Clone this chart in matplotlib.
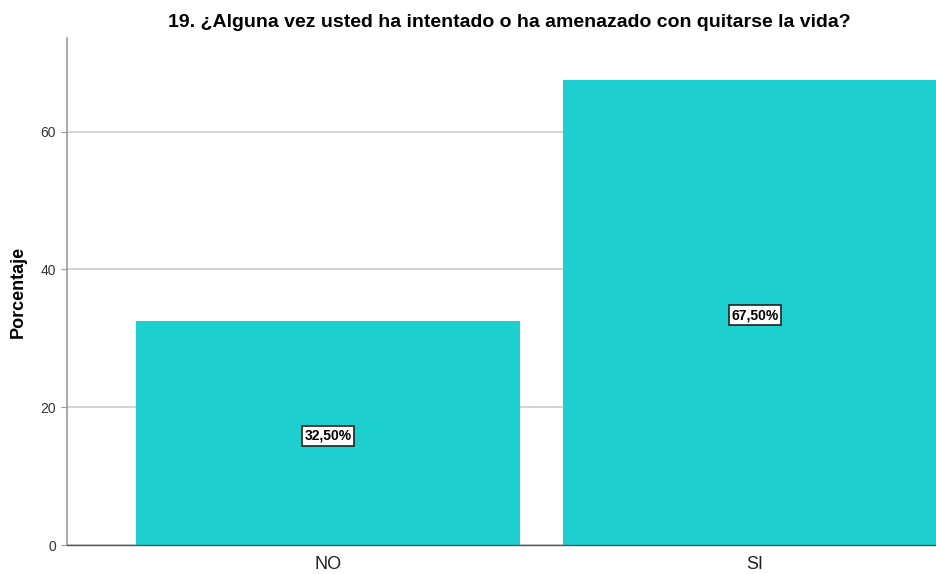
import matplotlib
matplotlib.use("Agg")
import matplotlib.pyplot as plt

categories = ["NO", "SI"]
values = [32.5, 67.5]
labels = ["32,50%", "67,50%"]
title = "19. ¿Alguna vez usted ha intentado o ha amenazado con quitarse la vida?"
ylabel = "Porcentaje"
yticks = [0, 20, 40, 60]

plt.rcParams['font.family'] = ['Liberation Sans', 'DejaVu Sans']

fig = plt.figure(figsize=(9.36, 5.74), dpi=100)
ax = fig.add_axes([0.0716, 0.0505, 0.9284, 0.8835])

x = list(range(len(categories)))
ax.bar(x, values, width=0.9, color="#1ECFCF", zorder=2)
ax.set_xlim(-0.611, 1.424)
ax.set_ylim(0, 73.6)
ax.set_yticks(yticks)
ax.set_xticks(x)
ax.set_xticklabels(categories, fontsize=13, color="#222222")
ax.tick_params(axis='x', length=0, pad=8)
ax.tick_params(axis='y', length=4, color="#999999", labelsize=10, labelcolor="#333333", pad=4)
ax.grid(axis='y', color="#cccccc", linewidth=1.2, zorder=0)
for s in ['top', 'right']:
    ax.spines[s].set_visible(False)
ax.spines['left'].set_color("#999999")
ax.spines['left'].set_linewidth(1.2)
ax.spines['bottom'].set_color("#555555")
ax.spines['bottom'].set_linewidth(1.0)
ax.set_ylabel(ylabel, fontsize=13, fontweight='bold')
ax.yaxis.set_label_coords(-0.046, 0.5)
fig.suptitle(title, x=0.544, y=0.975, fontsize=14, fontweight='bold')

for xi, v, lab in zip(x, values, labels):
    ax.text(xi, v / 2 - 0.4, lab, ha='center', va='center', fontsize=10, fontweight='bold',
            family=['Liberation Sans Narrow', 'Liberation Sans', 'DejaVu Sans'],
            bbox=dict(boxstyle='square,pad=0.2', facecolor='white', edgecolor='#222222', linewidth=1.2),
            zorder=3)

fig.savefig("out.png", dpi=100)
